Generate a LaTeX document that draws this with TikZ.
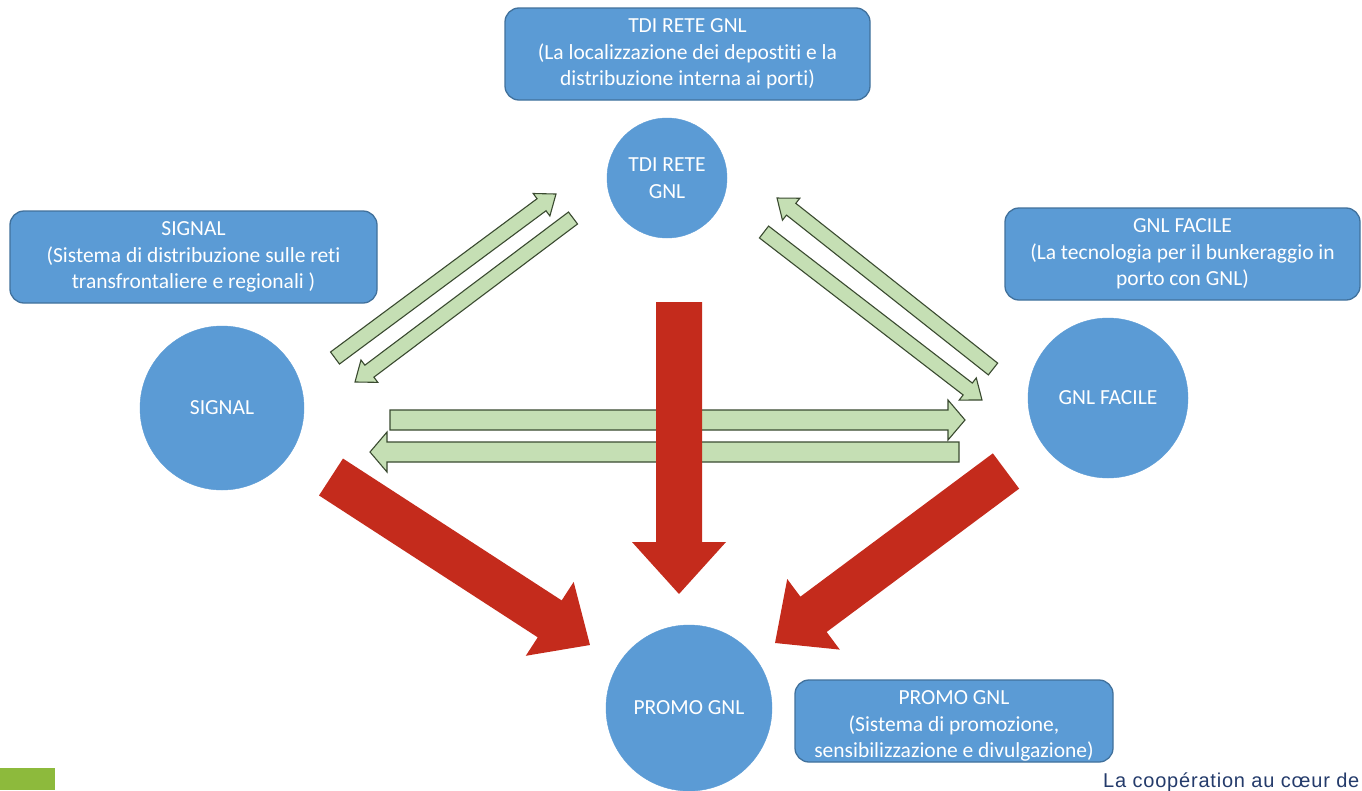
\documentclass[tikz,border=0pt]{standalone}
\usepackage{fontspec}
\setmainfont[Ligatures=NoCommon]{Carlito}
\newfontfamily\footfont[LetterSpace=4]{Liberation Sans}
\definecolor{cblue}{HTML}{5B9BD5}
\definecolor{cbluedk}{HTML}{41719C}
\definecolor{cgreen}{HTML}{C5DFB4}
\definecolor{cgreendk}{HTML}{3A4A30}
\definecolor{cred}{HTML}{C42B1C}
\definecolor{clime}{HTML}{8DBA3C}
\definecolor{cnavy}{HTML}{243B6B}
\newcommand{\blockarrow}[8]{%
 \pgfmathsetmacro\BAdx{#4-#2}%
 \pgfmathsetmacro\BAdy{#3-#5}%
 \pgfmathsetmacro\BAang{atan2(\BAdy,\BAdx)}%
 \pgfmathsetmacro\BAlen{veclen(\BAdx,\BAdy)}%
 \pgfmathsetmacro\BAbase{\BAlen-#8}%
 \begin{scope}[shift={(#2,#3)},rotate=\BAang,x=1pt,y=1pt]
 \path[#1] (0,-#6) -- (\BAbase,-#6) -- (\BAbase,-#7) -- (\BAlen,0) -- (\BAbase,#7) -- (\BAbase,#6) -- (0,#6) -- cycle;
 \end{scope}}
\tikzset{
 boxtext/.style={text=white, align=center, inner sep=0pt, font=\fontsize{21.5}{26.5}\selectfont},
 bluebox/.style={rectangle, rounded corners=14pt, fill=cblue, draw=cbluedk, line width=1.3pt, boxtext},
 bluecirc/.style={circle, fill=cblue, draw=cblue, text=white, align=center, inner sep=0pt, font=\fontsize{21.5}{27}\selectfont},
 greenarr/.style={fill=cgreen, draw=cgreendk, line width=1.1pt, line join=miter},
 redarr/.style={fill=cred},
}
\begin{document}
\begin{tikzpicture}[x=1pt,y=-1pt]
\useasboundingbox (0,0) rectangle (1362,790);
\clip (0,0) rectangle (1362,790);
\fill[white] (0,0) rectangle (1362,790);
% circles
\node[bluecirc, minimum size=120pt] (ctdi) at (667,178) {TDI RETE\\GNL};
\node[bluecirc, minimum size=164pt] (csig) at (222,408) {SIGNAL};
\node[bluecirc, minimum size=160pt] (cgnl) at (1108,398) {GNL FACILE};
\node[bluecirc, minimum size=166pt] (cpro) at (689,708) {PROMO GNL};
% boxes
\node[bluebox, minimum width=365pt, minimum height=92pt] (btdi) at (687.5,54) {TDI RETE GNL\\(La localizzazione dei depostiti e la\\distribuzione interna ai porti)};
\node[bluebox, minimum width=367pt, minimum height=92pt] (bsig) at (193.5,257) {SIGNAL\\(Sistema di distribuzione sulle reti\\transfrontaliere e regionali )};
\node[bluebox, minimum width=355pt, minimum height=92pt] (bgnl) at (1182.5,254) {GNL FACILE\\(La tecnologia per il bunkeraggio in\\porto con GNL)};
\node[bluebox, minimum width=318pt, minimum height=82pt] (bpro) at (954,721) {};
\node[boxtext] (tpro) at (954,726) {PROMO GNL\\(Sistema di promozione,\\sensibilizzazione e divulgazione)};
% green arrows
\blockarrow{greenarr}{335}{358}{556}{194}{7.5}{14}{18}
\blockarrow{greenarr}{573}{218}{355}{382}{7.5}{14}{18}
\blockarrow{greenarr}{993}{369}{777}{198}{7.5}{14}{18}
\blockarrow{greenarr}{764}{232}{982}{400}{7.5}{14}{18}
\blockarrow{greenarr}{390}{420}{965}{420}{10}{20}{17}
\blockarrow{greenarr}{959}{452}{370}{452}{10}{20}{17}
% red arrows
\blockarrow{redarr}{679}{302}{679}{594}{23}{47}{52}
\blockarrow{redarr}{331}{477}{590}{645}{22}{44}{48}
\blockarrow{redarr}{1006}{471}{775}{643}{22}{44}{48}
% footer
\fill[clime] (0,768) rectangle (55,790);
\node[anchor=base west, inner sep=0pt, text=cnavy, font=\footfont\fontsize{20}{22}\selectfont] (foot) at (1103,787) {La coopération au cœur de};
\end{tikzpicture}
\end{document}
